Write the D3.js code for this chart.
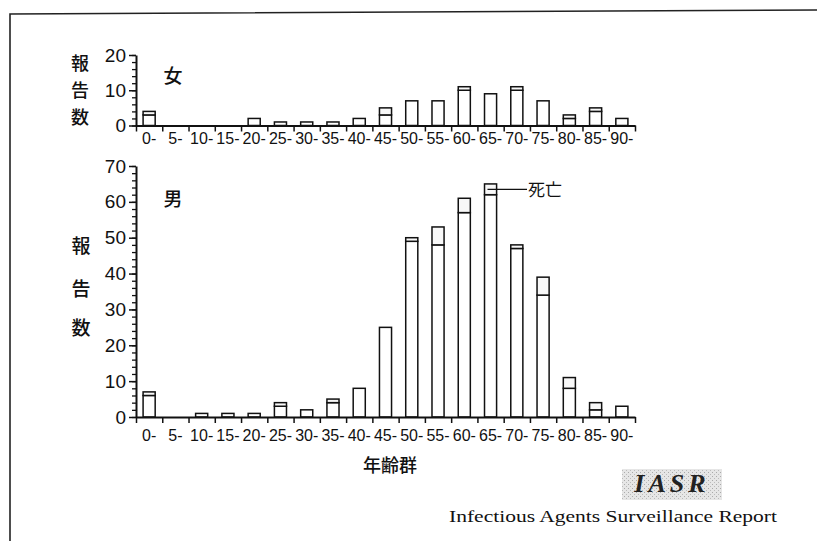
<!DOCTYPE html>
<html>
<head>
<meta charset="utf-8">
<script src="https://cdn.jsdelivr.net/npm/d3@7"></script>
<style>
  body { margin: 0; background: #fff; }
  svg { display: block; }
</style>
</head>
<body>
<div id="chart"></div>
<script>
// Age groups (x categories)
var ages = ["0-","5-","10-","15-","20-","25-","30-","35-","40-","45-",
            "50-","55-","60-","65-","70-","75-","80-","85-","90-"];

// Reported cases, female: total and deaths (top segment)
var femaleTotal  = [4,0,0,0,2,1,1,1,2,5,7,7,11,9,11,7,3,5,2];
var femaleDeaths = [1,0,0,0,0,0,0,0,0,2,0,0,1,0,1,0,1,1,0];

// Reported cases, male
var maleTotal  = [7,0,1,1,1,4,2,5,8,25,50,53,61,65,48,39,11,4,3];
var maleDeaths = [1,0,0,0,0,1,0,1,0,0,1,5,4,3,1,5,3,2,0];

var femaleTicks = [0,10,20];
var maleTicks = [0,10,20,30,40,50,60,70];

var W = 817, H = 541;
var tickFont = "'Liberation Sans Narrow','Arial Narrow','Liberation Sans',sans-serif";
var cjkFont = "'Noto Sans CJK JP','Noto Sans CJK SC',sans-serif";

var svg = d3.select("#chart").append("svg")
    .attr("width", W)
    .attr("height", H);

// scanned page frame (slightly tilted)
svg.append("path")
    .attr("d", "M10,541 L10,14 L817,10")
    .attr("fill", "none")
    .attr("stroke", "#222")
    .attr("stroke-width", 1.6);

var x0 = 136, x1 = 635;
var x = d3.scaleBand().domain(ages).range([x0, x1]).paddingInner(0.54).paddingOuter(0.27);
var edges = d3.scaleLinear().domain([0, ages.length]).range([x0, x1]);

// Draw one panel
function drawPanel(total, deaths, yTop, yBase, yMax, majorTicks, minorStep, labelPad) {
    var y = d3.scaleLinear().domain([0, yMax]).range([yBase, yTop]);
    var g = svg.append("g");

    // bars: survivors then deaths on top
    var rows = ages.map(function(a, i) {
        return {age: a, total: total[i], deaths: deaths[i]};
    });

    g.selectAll("rect.alive")
        .data(rows.filter(function(d) { return d.total > 0; }))
        .enter().append("rect")
        .attr("class", "alive")
        .attr("x", function(d) { return x(d.age); })
        .attr("width", x.bandwidth())
        .attr("y", function(d) { return y(d.total - d.deaths); })
        .attr("height", function(d) { return y(0) - y(d.total - d.deaths); })
        .attr("fill", "#fff")
        .attr("stroke", "#111")
        .attr("stroke-width", 1.5);

    g.selectAll("rect.dead")
        .data(rows.filter(function(d) { return d.deaths > 0; }))
        .enter().append("rect")
        .attr("class", "dead")
        .attr("x", function(d) { return x(d.age); })
        .attr("width", x.bandwidth())
        .attr("y", function(d) { return y(d.total); })
        .attr("height", function(d) { return y(d.total - d.deaths) - y(d.total); })
        .attr("fill", "#f8f8f8")
        .attr("stroke", "#111")
        .attr("stroke-width", 1.5);

    // y axis, major + minor ticks
    var minor = d3.range(0, yMax + 0.1, minorStep);
    svg.append("g")
        .attr("transform", "translate(" + x0 + ",0)")
        .call(d3.axisLeft(y).tickValues(minor).tickSize(4).tickFormat(""))
        .call(function(s) {
            s.select(".domain").remove();
            s.selectAll("line").attr("stroke", "#111").attr("stroke-width", 1.3);
        });
    svg.append("g")
        .attr("transform", "translate(" + x0 + ",0)")
        .call(d3.axisLeft(y).tickValues(majorTicks).tickSize(7).tickPadding(3).tickSizeOuter(0))
        .call(function(s) {
            s.select(".domain").attr("stroke", "#111").attr("stroke-width", 2);
            s.selectAll("line").attr("stroke", "#111").attr("stroke-width", 1.5);
            s.selectAll("text")
                .attr("fill", "#111")
                .style("font-family", tickFont)
                .style("font-size", "19px");
        });

    // x axis: ticks at group edges, labels under bars
    svg.append("g")
        .attr("transform", "translate(0," + yBase + ")")
        .call(d3.axisBottom(edges).tickValues(d3.range(0, ages.length + 1)).tickSize(6).tickFormat("").tickSizeOuter(0))
        .call(function(s) {
            s.select(".domain").attr("stroke", "#111").attr("stroke-width", 2);
            s.selectAll("line").attr("stroke", "#111").attr("stroke-width", 1.5);
        });
    svg.append("g")
        .attr("transform", "translate(0," + yBase + ")")
        .call(d3.axisBottom(x).tickSize(0).tickPadding(labelPad))
        .call(function(s) {
            s.select(".domain").remove();
            s.selectAll("text")
                .attr("fill", "#111")
                .style("font-family", tickFont)
                .style("font-size", "16px");
        });

    return y;
}

var yF = drawPanel(femaleTotal, femaleDeaths, 55, 125.5, 20, femaleTicks, 2, 7);
var yM = drawPanel(maleTotal, maleDeaths, 166, 417, 70, maleTicks, 2, 13);

// vertical y titles
function vertical(chars, cx, ys, size) {
    svg.append("g").selectAll("text")
        .data(chars)
        .enter().append("text")
        .attr("x", cx)
        .attr("y", function(d, i) { return ys[i]; })
        .attr("text-anchor", "middle")
        .attr("dominant-baseline", "central")
        .attr("fill", "#111")
        .style("font-family", cjkFont)
        .style("font-weight", 500)
        .style("font-size", size + "px")
        .text(function(d) { return d; });
}
vertical(["報","告","数"], 80, [62, 89, 116], 18);
vertical(["報","告","数"], 81, [244, 287, 326], 19);

// panel labels
svg.append("text").attr("x", 173).attr("y", 74)
    .attr("text-anchor", "middle").attr("dominant-baseline", "central")
    .style("font-family", cjkFont).style("font-size", "19px").style("font-weight", 500).attr("fill", "#111")
    .text("女");
svg.append("text").attr("x", 173).attr("y", 197)
    .attr("text-anchor", "middle").attr("dominant-baseline", "central")
    .style("font-family", cjkFont).style("font-size", "19px").style("font-weight", 500).attr("fill", "#111")
    .text("男");

// 死亡 leader on the 65- male bar
var iLead = ages.indexOf("65-");
var leadY = yM(maleTotal[iLead] - maleDeaths[iLead] / 2);
svg.append("line")
    .attr("x1", x("65-") + 3).attr("x2", 527)
    .attr("y1", leadY).attr("y2", leadY)
    .attr("stroke", "#111").attr("stroke-width", 1.3);
svg.append("text").attr("x", 528).attr("y", leadY - 1)
    .attr("dominant-baseline", "central")
    .style("font-family", cjkFont).style("font-size", "17px").attr("fill", "#111")
    .text("死亡");

// x title
svg.append("text").attr("x", 390).attr("y", 464)
    .attr("text-anchor", "middle").attr("dominant-baseline", "central")
    .style("font-family", cjkFont).style("font-size", "18px").style("font-weight", 500).attr("fill", "#111")
    .text("年齢群");

// IASR logo
var pat = svg.append("defs").append("pattern")
    .attr("id", "speckle").attr("width", 4).attr("height", 4)
    .attr("patternUnits", "userSpaceOnUse");
pat.append("rect").attr("width", 4).attr("height", 4).attr("fill", "#e6e6e6");
pat.append("rect").attr("x", 0).attr("y", 0).attr("width", 1).attr("height", 1).attr("fill", "#aaa");
pat.append("rect").attr("x", 2).attr("y", 2).attr("width", 1).attr("height", 1).attr("fill", "#bbb");
svg.append("rect")
    .attr("x", 622).attr("y", 469).attr("width", 100).attr("height", 31)
    .attr("fill", "url(#speckle)");
svg.append("text").attr("x", 672).attr("y", 492)
    .attr("text-anchor", "middle")
    .style("font-family", "'Liberation Serif','DejaVu Serif',serif")
    .style("font-size", "26px").style("font-weight", "bold").style("font-style", "italic")
    .style("letter-spacing", "4px")
    .attr("fill", "#222")
    .text("IASR");
svg.append("text").attr("x", 449).attr("y", 522)
    .attr("textLength", 328).attr("lengthAdjust", "spacingAndGlyphs")
    .style("font-family", "'Liberation Serif','DejaVu Serif',serif")
    .style("font-size", "16px")
    .attr("fill", "#111")
    .text("Infectious Agents Surveillance Report");
</script>
</body>
</html>
